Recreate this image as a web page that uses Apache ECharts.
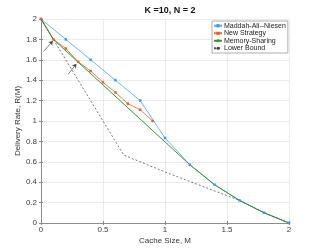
<!DOCTYPE html>
<html><head><meta charset="utf-8">
<script src="https://cdn.jsdelivr.net/npm/echarts@6/dist/echarts.min.js"></script>
<style>html,body{margin:0;padding:0;background:#fff}#c{width:319px;height:252px}</style>
</head><body><div id="c"></div>
<script>
const titleText = 'K =10, N = 2';
const xLabel = 'Cache Size, M';
const yLabel = 'Delivery Rate, R(M)';
const seriesNames = ['Maddah-Ali--Niesen', 'New Strategy', 'Memory-Sharing', 'Lower Bound'];
const manM = [0, 0.2, 0.4, 0.6, 0.8, 1.0, 1.2, 1.4, 1.6, 1.8, 2.0];
const manR = [2, 1.8, 1.6, 1.4, 1.2, 0.8333, 0.5714, 0.375, 0.2222, 0.1, 0];
const newM = [0, 0.1, 0.2, 0.3, 0.4, 0.5, 0.6, 0.7, 0.8, 0.9];
const newR = [2, 1.8, 1.71, 1.58, 1.49, 1.38, 1.28, 1.17, 1.11, 1.0];
const msM = [0, 0.1, 1.2, 1.4, 1.6, 1.8, 2.0];
const msR = [2, 1.8, 0.5714, 0.375, 0.2222, 0.1, 0];
const lbM = [0, 0.6667, 1.0, 1.6, 1.8, 2.0];
const lbR = [2, 0.6667, 0.5, 0.2222, 0.1, 0];
const arrows = [[[0.02, 1.68], [0.095, 1.785]], [[0.22, 1.46], [0.285, 1.56]]];
const xTicks = [0, 0.5, 1, 1.5, 2];

const zip = (a, b) => a.map((v, i) => [v, b[i]]);
const chart = echarts.init(document.getElementById('c'));
const axisTxt = {fontFamily: 'Liberation Sans', fontSize: 8, color: '#3a3a3a'};
const boxAxis = {axisLine: {show: true, lineStyle: {color: '#888', width: 0.8}},
  axisTick: {show: true, inside: true, length: 2, lineStyle: {color: '#888'}},
  axisLabel: {show: false}, splitLine: {show: false}};
chart.setOption({
  animation: false,
  title: {text: titleText, left: 165, top: 1, textAlign: 'center',
    textStyle: {fontFamily: 'Liberation Sans', fontSize: 9, fontWeight: 'bold', color: '#111'}},
  grid: {left: 41, right: 30, top: 19, bottom: 29},
  legend: {
    orient: 'vertical', left: 212, top: 21, padding: [1, 2, 1, 1], itemGap: 0,
    itemWidth: 8, itemHeight: 4, borderColor: '#999', borderWidth: 0.8, backgroundColor: '#fff',
    textStyle: {fontFamily: 'Liberation Sans', fontSize: 7, color: '#222', padding: [0, 0, 0, -3], lineHeight: 7.5},
    data: seriesNames
  },
  xAxis: [{
    type: 'value', min: 0, max: 2, interval: 0.5,
    name: xLabel, nameLocation: 'middle', nameGap: 14, nameMoveOverlap: false,
    nameTextStyle: {fontFamily: 'Liberation Sans', fontSize: 8, color: '#333'},
    axisLine: {show: true, lineStyle: {color: '#888', width: 0.8}},
    axisTick: {show: true, inside: true, length: 2, lineStyle: {color: '#888'}},
    axisLabel: Object.assign({margin: 3, formatter: v => xTicks.includes(v) ? String(v) : ''}, axisTxt),
    splitLine: {show: true, lineStyle: {color: '#e6e6e6', width: 0.8}}
  }, Object.assign({type: 'value', min: 0, max: 2, interval: 0.5, position: 'top'}, boxAxis)],
  yAxis: [{
    type: 'value', min: 0, max: 2, interval: 0.2,
    name: yLabel, nameLocation: 'middle', nameGap: 19, nameMoveOverlap: false,
    nameTextStyle: {fontFamily: 'Liberation Sans', fontSize: 8, color: '#333'},
    axisLine: {show: true, lineStyle: {color: '#888', width: 0.8}},
    axisTick: {show: true, inside: true, length: 2, lineStyle: {color: '#888'}},
    axisLabel: Object.assign({margin: 4, formatter: v => String(Math.round(v * 10) / 10)}, axisTxt),
    splitLine: {show: true, lineStyle: {color: '#e6e6e6', width: 0.8}}
  }, Object.assign({type: 'value', min: 0, max: 2, interval: 0.2, position: 'right'}, boxAxis)],
  series: [
    {name: seriesNames[0], type: 'line', data: zip(manM, manR), symbol: 'rect', symbolSize: 2.5,
      itemStyle: {color: '#3b9ae0'}, lineStyle: {width: 0.9, color: '#5aaee8'}},
    {name: seriesNames[1], type: 'line', data: zip(newM, newR), symbol: 'rect', symbolSize: 2.5,
      itemStyle: {color: '#e0622a'}, lineStyle: {width: 0.9, color: '#e8703a'}},
    {name: seriesNames[2], type: 'line', data: zip(msM, msR), symbol: 'none',
      itemStyle: {color: '#2e9a2e'}, lineStyle: {width: 1, color: '#2e9a2e'}},
    {name: seriesNames[3], type: 'line', data: zip(lbM, lbR), symbol: 'none',
      itemStyle: {color: '#444'}, lineStyle: {width: 0.8, color: '#555', type: [2, 2]},
      markLine: {silent: true, symbol: ['none', 'arrow'], symbolSize: 4, label: {show: false},
        lineStyle: {color: '#444', width: 0.7, type: 'solid'},
        data: arrows.map(a => [{coord: a[0]}, {coord: a[1]}])}}
  ]
});
</script></body></html>
